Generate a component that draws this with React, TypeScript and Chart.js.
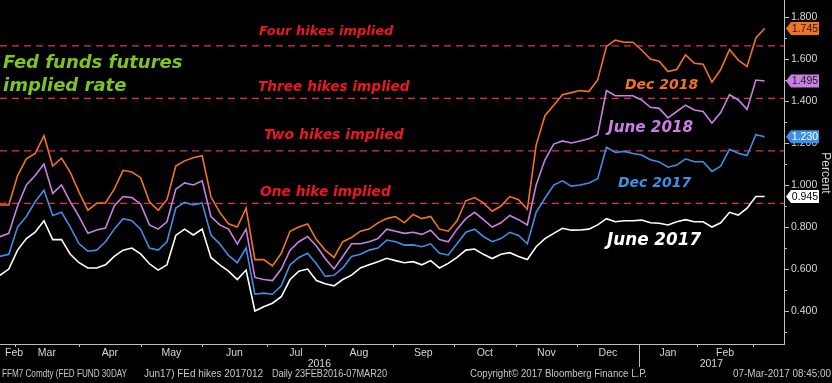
import React, { useEffect, useRef } from "react";
import { Chart, registerables } from "chart.js";

Chart.register(...registerables);

// Fed funds futures implied rate, sampled every 3rd trading day from 23 Feb 2016 to 07 Mar 2017
const SAMPLE_EVERY = 3;

const dec2018 = [
  0.905, 0.905, 1.045, 1.125, 1.15, 1.235, 1.09, 1.128, 1.06, 0.965,
  0.88, 0.913, 0.915, 0.98, 1.07, 1.062, 1.035, 0.92, 0.88, 0.93,
  1.09, 1.115, 1.13, 1.14, 0.944, 0.87, 0.815, 0.8, 0.89, 0.645,
  0.645, 0.615, 0.675, 0.78, 0.8, 0.815, 0.74, 0.69, 0.655, 0.73,
  0.75, 0.78, 0.79, 0.82, 0.84, 0.85, 0.82, 0.86, 0.84, 0.85,
  0.79, 0.78, 0.83, 0.925, 0.94, 0.915, 0.875, 0.9, 0.945, 0.93,
  0.885, 1.19, 1.33, 1.38, 1.43, 1.44, 1.45, 1.445, 1.5, 1.66,
  1.69, 1.68, 1.68, 1.643, 1.6, 1.59, 1.54, 1.55, 1.62, 1.58,
  1.575, 1.49, 1.55, 1.645, 1.595, 1.565, 1.7, 1.745,
];

const june2018 = [
  0.754, 0.77, 0.9, 1.0, 1.045, 1.1, 0.96, 1.0, 0.92, 0.85,
  0.77, 0.786, 0.795, 0.9, 0.945, 0.94, 0.91, 0.81, 0.79, 0.825,
  0.98, 1.01, 1.0, 1.02, 0.85, 0.81, 0.79, 0.72, 0.79, 0.56,
  0.55, 0.545, 0.6, 0.69, 0.73, 0.755, 0.71, 0.65, 0.6, 0.66,
  0.72, 0.72, 0.73, 0.745, 0.79, 0.78, 0.77, 0.775, 0.765, 0.785,
  0.74, 0.73, 0.79, 0.84, 0.87, 0.835, 0.8, 0.82, 0.855, 0.835,
  0.81, 1.0, 1.12, 1.195, 1.21, 1.2, 1.21, 1.22, 1.24, 1.45,
  1.425, 1.425, 1.425, 1.405, 1.37, 1.365, 1.32, 1.35, 1.38, 1.357,
  1.35, 1.295, 1.345, 1.43, 1.405, 1.36, 1.5, 1.495,
];

const dec2017 = [
  0.66, 0.67, 0.8, 0.85, 0.92, 0.975, 0.855, 0.87, 0.8, 0.72,
  0.685, 0.69, 0.73, 0.79, 0.84, 0.83, 0.79, 0.7, 0.69, 0.73,
  0.89, 0.917, 0.905, 0.915, 0.762, 0.72, 0.665, 0.63, 0.7, 0.48,
  0.485, 0.48, 0.52, 0.62, 0.655, 0.675, 0.625, 0.565, 0.57, 0.605,
  0.66, 0.67, 0.69, 0.7, 0.738, 0.73, 0.714, 0.715, 0.706, 0.72,
  0.675, 0.667, 0.72, 0.775, 0.79, 0.755, 0.73, 0.745, 0.775, 0.76,
  0.72, 0.87, 0.937, 1.0, 1.02, 0.995, 1.0, 1.01, 1.03, 1.18,
  1.155, 1.16, 1.15, 1.143, 1.12, 1.11, 1.085, 1.095, 1.125, 1.111,
  1.111, 1.065, 1.09, 1.17, 1.151, 1.14, 1.24, 1.23,
];

const june2017 = [
  0.57, 0.6, 0.69, 0.745, 0.775, 0.83, 0.74, 0.74, 0.67, 0.63,
  0.605, 0.605, 0.62, 0.66, 0.69, 0.7, 0.672, 0.625, 0.595, 0.62,
  0.76, 0.79, 0.762, 0.79, 0.655, 0.62, 0.59, 0.55, 0.595, 0.4,
  0.42, 0.437, 0.468, 0.55, 0.59, 0.6, 0.545, 0.53, 0.52, 0.55,
  0.571, 0.605, 0.62, 0.635, 0.651, 0.64, 0.63, 0.635, 0.62, 0.64,
  0.605, 0.627, 0.655, 0.69, 0.695, 0.67, 0.65, 0.67, 0.678, 0.66,
  0.645, 0.706, 0.745, 0.77, 0.794, 0.785, 0.786, 0.79, 0.81, 0.84,
  0.825, 0.83, 0.83, 0.833, 0.82, 0.818, 0.81, 0.825, 0.835, 0.825,
  0.825, 0.8, 0.82, 0.87, 0.857, 0.89, 0.945, 0.945,
];

const seriesNames = ["Dec 2018", "June 2018", "Dec 2017", "June 2017"];
const seriesColors = ["#F47322", "#C97FE3", "#3D8FE6", "#FFFFFF"];
const badgeTextColors = ["#1A1A1A", "#1A1A1A", "#FFFFFF", "#000000"];

const hikeRates = [0.913, 1.163, 1.413, 1.663];
const hikeNames = ["One hike implied", "Two hikes implied", "Three hikes implied", "Four hikes implied"];

const monthNames = ["Feb", "Mar", "Apr", "May", "Jun", "Jul", "Aug", "Sep", "Oct", "Nov", "Dec", "Jan", "Feb"];
// trading-day index of the first session of each month (first entry = start of data)
const monthStarts = [0, 5, 27, 48, 69, 91, 111, 134, 155, 176, 197, 218, 238, 257];
const yearNames = ["2016", "2017"];
const yearStarts = [0, 218];
const AXIS_END_DAY = 267.6;

const yTicks = [0.3, 0.4, 0.5, 0.6, 0.7, 0.8, 0.9, 1.0, 1.1, 1.2, 1.3, 1.4, 1.5, 1.6, 1.7, 1.8];
const Y_MIN = 0.243;
const Y_MAX = 1.881;

const footerLeft = ["FFM7 Comdty (FED FUND 30DAY", "Jun17) FEd hikes 2017012", "Daily 23FEB2016-07MAR20"];
const footerCopyright = "Copyright\u00A9 2017 Bloomberg Finance L.P.";
const footerStamp = "07-Mar-2017 08:45:00";

const allSeries = [dec2018, june2018, dec2017, june2017];

const TICK_FONT = '"Liberation Sans", Arial, sans-serif';
const BOLD_IT = '"DejaVu Sans", Verdana, sans-serif';

export default function App() {
  const ref = useRef<HTMLCanvasElement | null>(null);

  useEffect(() => {
    document.body.style.margin = "0";
    document.body.style.background = "#000";
    const canvas = ref.current;
    if (!canvas) return;

    const overlay = {
      id: "overlay",
      beforeDraw(chart: any) {
        const c = chart.ctx;
        c.save();
        c.fillStyle = "#000";
        c.fillRect(0, 0, chart.width, chart.height);
        c.restore();
      },
      afterDatasetsDraw(chart: any) {
        const c = chart.ctx;
        c.save();
        c.textBaseline = "middle";
        c.textAlign = "left";
        // title
        c.fillStyle = "#7CC41F";
        c.font = `italic bold 18px ${BOLD_IT}`;
        c.fillText("Fed funds futures", 3, 63);
        c.fillText("implied rate", 3, 86);
        // hike labels
        c.fillStyle = "#EE1620";
        const hikePos = [
          [260, 192, 13.8],
          [264, 135, 14],
          [258, 87, 13.7],
          [259, 32, 13],
        ];
        hikeNames.forEach((n, i) => {
          c.font = `italic bold ${hikePos[i][2]}px ${BOLD_IT}`;
          c.fillText(n, hikePos[i][0], hikePos[i][1]);
        });
        // series labels
        const serPos = [
          [625, 85, 14],
          [608, 128, 15.2],
          [618, 183, 14],
          [607, 241, 16.8],
        ];
        seriesNames.forEach((n, i) => {
          c.fillStyle = seriesColors[i];
          c.font = `italic bold ${serPos[i][2]}px ${BOLD_IT}`;
          c.fillText(n, serPos[i][0], serPos[i][1]);
        });
        c.restore();
      },
      afterDraw(chart: any) {
        const c = chart.ctx;
        const xs = chart.scales.x;
        const ys = chart.scales.y;
        const a = chart.chartArea;
        c.save();
        // x axis line
        c.strokeStyle = "#BDBDBD";
        c.lineWidth = 1;
        c.beginPath();
        c.moveTo(0, a.bottom + 0.5);
        c.lineTo(a.right, a.bottom + 0.5);
        c.stroke();
        // month ticks
        monthStarts.slice(1).forEach((d) => {
          const px = Math.round(xs.getPixelForValue(d)) + 0.5;
          c.beginPath();
          c.moveTo(px, a.bottom);
          c.lineTo(px, a.bottom + 3);
          c.stroke();
        });
        // year separator
        const ysx = Math.round(xs.getPixelForValue(yearStarts[1])) + 0.5;
        c.beginPath();
        c.moveTo(ysx, a.bottom);
        c.lineTo(ysx, a.bottom + 23);
        c.stroke();
        // month labels
        c.fillStyle = "#D6D6D6";
        c.font = `10.5px ${TICK_FONT}`;
        c.textAlign = "center";
        c.textBaseline = "middle";
        monthNames.forEach((m, i) => {
          const mid = (monthStarts[i] + monthStarts[i + 1]) / 2;
          let px = xs.getPixelForValue(mid);
          const w = c.measureText(m).width;
          if (px - w / 2 < 5) px = 5 + w / 2;
          c.fillText(m, px, a.bottom + 9);
        });
        // year labels
        yearNames.forEach((yname, i) => {
          const end = i + 1 < yearStarts.length ? yearStarts[i + 1] : AXIS_END_DAY;
          const px = xs.getPixelForValue((yearStarts[i] + end) / 2);
          c.fillText(yname, px, a.bottom + 20);
        });
        // y minor/major tick marks
        c.strokeStyle = "#BDBDBD";
        yTicks.forEach((v) => {
          const py = Math.round(ys.getPixelForValue(v)) + 0.5;
          const major = Math.round(v * 10) % 2 === 0;
          c.beginPath();
          c.moveTo(a.right, py);
          c.lineTo(a.right + (major ? 5 : 3), py);
          c.stroke();
        });
        // last-value badges
        c.font = `10.5px ${TICK_FONT}`;
        allSeries.forEach((s, i) => {
          const v = s[s.length - 1];
          const py = ys.getPixelForValue(v);
          const x0 = a.right + 2;
          const h = 6.5;
          c.fillStyle = seriesColors[i];
          c.beginPath();
          c.moveTo(x0, py);
          c.lineTo(x0 + 5, py - h);
          c.lineTo(x0 + 33, py - h);
          c.lineTo(x0 + 33, py + h);
          c.lineTo(x0 + 5, py + h);
          c.closePath();
          c.fill();
          c.fillStyle = badgeTextColors[i];
          c.textAlign = "center";
          c.fillText(v.toFixed(3), x0 + 19, py + 0.5);
        });
        // Percent title
        c.save();
        c.translate(825, 173);
        c.rotate(Math.PI / 2);
        c.fillStyle = "#D6D6D6";
        c.font = `12px ${TICK_FONT}`;
        c.textAlign = "center";
        c.fillText("Percent", 0, 0);
        c.restore();
        // footer
        c.fillStyle = "#C8C8C8";
        c.font = `10px ${TICK_FONT}`;
        c.textAlign = "left";
        c.fillText(footerLeft[0], 2, 374, 125);
        c.fillText(footerLeft[1], 144, 374, 119);
        c.fillText(footerLeft[2], 272, 374, 115);
        c.fillText(footerCopyright, 470, 374, 177);
        c.textAlign = "right";
        c.fillText(footerStamp, 831, 374, 98);
        c.restore();
      },
    };

    const toPoints = (arr: number[]) => arr.map((v, i) => ({ x: i * SAMPLE_EVERY, y: v }));

    const datasets: any[] = [
      ...hikeRates.map((r) => ({
        data: [
          { x: 0, y: r },
          { x: AXIS_END_DAY, y: r },
        ],
        borderColor: "#E0304F",
        borderWidth: 1.3,
        borderDash: [7, 5],
        pointRadius: 0,
        order: 10,
      })),
      ...allSeries.map((s, i) => ({
        label: seriesNames[i],
        data: toPoints(s),
        borderColor: seriesColors[i],
        borderWidth: 1.6,
        pointRadius: 0,
        tension: 0,
        order: 3 - i,
      })),
    ];

    const chart = new Chart(canvas, {
      type: "line",
      data: { datasets },
      options: {
        responsive: false,
        animation: false,
        devicePixelRatio: 1,
        layout: { padding: { left: 0, top: 0, right: 0, bottom: 39 } },
        plugins: { legend: { display: false }, tooltip: { enabled: false } },
        scales: {
          x: { type: "linear", min: 0, max: AXIS_END_DAY, display: false },
          y: {
            type: "linear",
            position: "right",
            min: Y_MIN,
            max: Y_MAX,
            afterBuildTicks: (s: any) => {
              s.ticks = yTicks.map((v) => ({ value: v }));
            },
            afterFit: (s: any) => {
              s.width = 48;
              s.paddingTop = 0;
              s.paddingBottom = 0;
            },
            grid: { drawOnChartArea: false, drawTicks: false },
            border: { color: "#BDBDBD", width: 1 },
            ticks: {
              color: "#D6D6D6",
              padding: 7,
              font: { family: TICK_FONT, size: 10.5 },
              callback: (v: any) => (Math.round(Number(v) * 10) % 2 === 0 ? Number(v).toFixed(3) : ""),
            },
          },
        },
      } as any,
      plugins: [overlay],
    });
    return () => chart.destroy();
  }, []);

  return (
    <div style={{ width: 832, height: 383, background: "#000" }}>
      <canvas ref={ref} width={832} height={383} style={{ display: "block" }} />
    </div>
  );
}
